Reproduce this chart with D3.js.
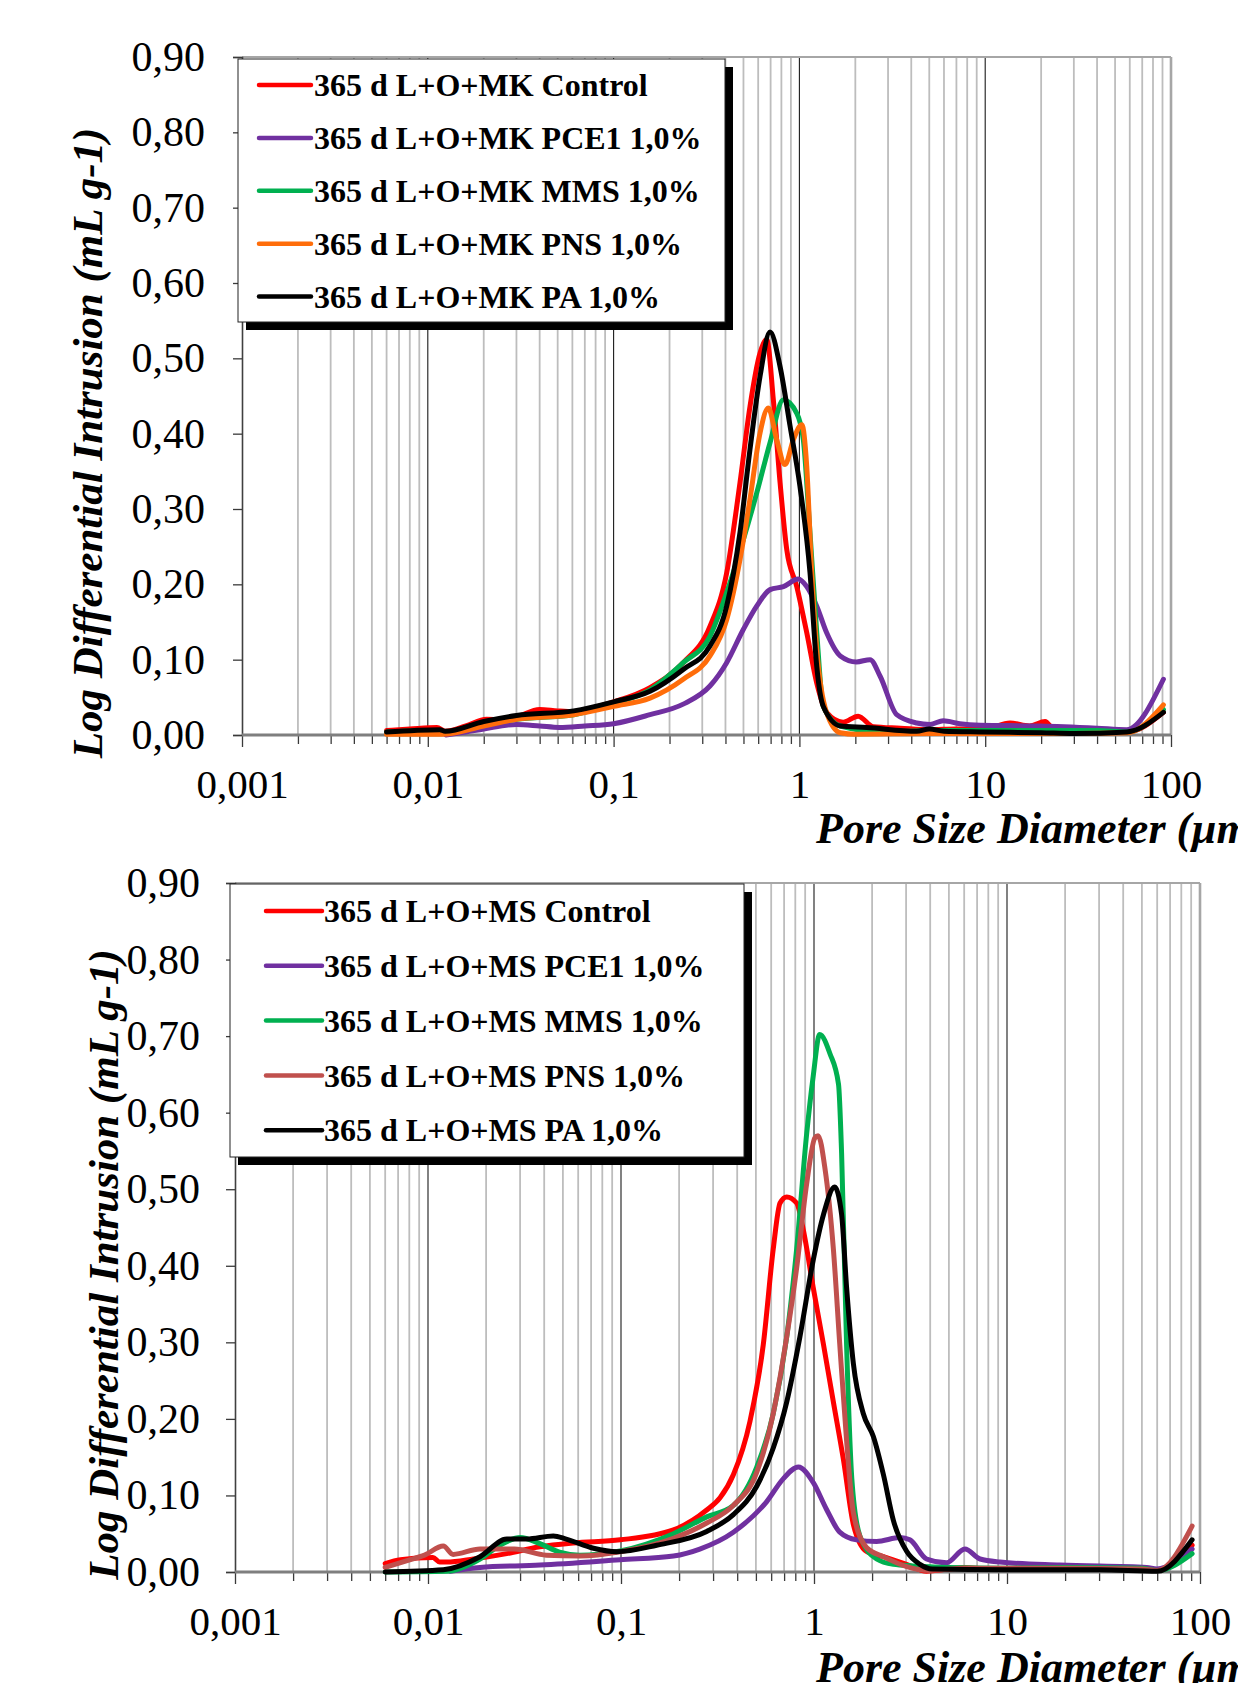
<!DOCTYPE html>
<html>
<head>
<meta charset="utf-8">
<script src="https://cdn.jsdelivr.net/npm/d3@7"></script>
<style>
  body { margin: 0; background: #fff; }
  svg { display: block; }
</style>
</head>
<body>
<div id="container1"></div>
<script>
// ---- data: [pore size (µm), log diff. intrusion (mL/g)] ----
const xTickValues = [0.001, 0.01, 0.1, 1, 10, 100];
const xTickLabels = ['0,001', '0,01', '0,1', '1', '10', '100'];
const yTickValues = [0, 0.1, 0.2, 0.3, 0.4, 0.5, 0.6, 0.7, 0.8, 0.9];
const yTickLabels = ['0,00', '0,10', '0,20', '0,30', '0,40', '0,50', '0,60', '0,70', '0,80', '0,90'];

const mkNames = ['365 d L+O+MK Control', '365 d L+O+MK PCE1 1,0%', '365 d L+O+MK MMS 1,0%',
                 '365 d L+O+MK PNS 1,0%', '365 d L+O+MK PA 1,0%'];
const msNames = ['365 d L+O+MS Control', '365 d L+O+MS PCE1 1,0%', '365 d L+O+MS MMS 1,0%',
                 '365 d L+O+MS PNS 1,0%', '365 d L+O+MS PA 1,0%'];
const mkColors = ['#ff0000', '#7030a0', '#00b050', '#ff6d0a', '#000000'];
const msColors = ['#ff0000', '#7030a0', '#00b050', '#c0504d', '#000000'];

const mkControl = [[0.006,0.006],[0.008,0.008],[0.0112,0.010],[0.0124,0.005],[0.016,0.012],[0.0207,0.021],
  [0.025,0.020],[0.030,0.024],[0.040,0.034],[0.050,0.032],[0.061,0.031],[0.08,0.037],[0.1,0.044],
  [0.157,0.063],[0.237,0.096],[0.33,0.144],[0.406,0.215],[0.479,0.335],[0.542,0.436],[0.614,0.507],
  [0.667,0.525],[0.724,0.445],[0.787,0.335],[0.855,0.246],[0.968,0.197],[1.095,0.136],[1.24,0.069],
  [1.40,0.030],[1.72,0.017],[2.07,0.025],[2.5,0.011],[3.5,0.009],[5,0.007],[7,0.008],[10,0.008],
  [13.6,0.016],[17.3,0.012],[21,0.018],[23.5,0.007],[30,0.005],[45,0.005],[58,0.004],[91,0.030]];
const mkPce1 = [[0.0125,0.000],[0.016,0.004],[0.020,0.008],[0.030,0.014],[0.040,0.012],[0.051,0.010],
  [0.07,0.012],[0.1,0.015],[0.157,0.027],[0.237,0.041],[0.33,0.065],[0.406,0.096],[0.499,0.140],
  [0.589,0.171],[0.695,0.193],[0.82,0.197],[0.986,0.207],[1.095,0.197],[1.24,0.171],[1.40,0.136],
  [1.66,0.105],[2.03,0.097],[2.40,0.100],[2.72,0.078],[3.34,0.027],[4.28,0.016],[5.05,0.014],
  [5.95,0.019],[7.3,0.015],[9.4,0.013],[19.7,0.012],[40,0.009],[57.7,0.007],[91,0.074]];
const mkMms = [[0.006,0.004],[0.011,0.006],[0.0124,0.004],[0.020,0.014],[0.030,0.021],[0.061,0.027],
  [0.1,0.042],[0.157,0.060],[0.237,0.096],[0.33,0.131],[0.406,0.189],[0.499,0.259],[0.589,0.321],
  [0.695,0.388],[0.82,0.445],[0.968,0.427],[1.05,0.392],[1.14,0.269],[1.24,0.136],[1.345,0.038],
  [1.66,0.012],[2.9,0.004],[5,0.006],[10,0.006],[20,0.006],[40,0.006],[58,0.004],[91,0.034]];
const mkPns = [[0.006,0.001],[0.012,0.001],[0.020,0.012],[0.030,0.021],[0.061,0.027],[0.1,0.038],
  [0.157,0.049],[0.237,0.074],[0.33,0.105],[0.406,0.153],[0.479,0.233],[0.542,0.313],[0.614,0.401],
  [0.68,0.434],[0.755,0.392],[0.837,0.359],[0.928,0.392],[1.03,0.412],[1.095,0.357],[1.16,0.224],
  [1.24,0.114],[1.40,0.030],[1.66,0.003],[2,0.001],[5,0.002],[10,0.002],[30,0.002],[58,0.003],[91,0.040]];
const mkPa = [[0.006,0.004],[0.0116,0.007],[0.0124,0.005],[0.020,0.018],[0.030,0.026],[0.061,0.032],
  [0.1,0.044],[0.157,0.058],[0.237,0.087],[0.33,0.118],[0.406,0.171],[0.479,0.269],[0.542,0.379],
  [0.614,0.476],[0.695,0.535],[0.787,0.489],[0.891,0.410],[1.007,0.330],[1.14,0.216],[1.24,0.091],
  [1.345,0.038],[1.66,0.012],[2.3,0.010],[4.28,0.005],[5,0.008],[6,0.005],[9.4,0.004],[20,0.003],
  [30,0.002],[58,0.004],[91,0.030]];

const msControl = [[0.006,0.011],[0.0072,0.016],[0.0106,0.019],[0.0115,0.013],[0.0125,0.013],
  [0.0172,0.017],[0.0256,0.024],[0.038,0.033],[0.0566,0.038],[0.099,0.042],[0.187,0.055],[0.278,0.081],
  [0.326,0.097],[0.382,0.127],[0.466,0.197],[0.546,0.297],[0.615,0.422],[0.667,0.482],[0.722,0.490],
  [0.813,0.482],[0.88,0.447],[0.99,0.372],[1.12,0.297],[1.26,0.222],[1.42,0.147],[1.60,0.062],
  [1.87,0.027],[2.29,0.020],[3.02,0.010],[3.83,0.001],[5,0.004],[6,0.006],[8,0.004],[20,0.004],
  [50,0.004],[60,0.002],[91,0.035]];
const msPce1 = [[0.013,0.001],[0.0186,0.006],[0.038,0.009],[0.099,0.016],[0.187,0.021],[0.256,0.030],
  [0.382,0.052],[0.569,0.092],[0.694,0.122],[0.83,0.137],[0.99,0.117],[1.16,0.082],[1.36,0.052],
  [1.66,0.042],[2.11,0.040],[2.79,0.045],[3.14,0.042],[3.83,0.017],[4.86,0.012],[6.05,0.030],
  [7.25,0.017],[9.2,0.013],[18.8,0.009],[53,0.006],[59.7,0.004],[91,0.030]];
const msMms = [[0.006,0.000],[0.0125,0.001],[0.0186,0.017],[0.0236,0.035],[0.030,0.045],[0.038,0.037],
  [0.048,0.026],[0.061,0.022],[0.099,0.0275],[0.187,0.050],[0.278,0.072],[0.382,0.087],[0.505,0.137],
  [0.615,0.207],[0.722,0.307],[0.813,0.422],[0.916,0.572],[0.99,0.647],[1.07,0.702],[1.21,0.677],
  [1.34,0.637],[1.39,0.547],[1.475,0.297],[1.57,0.122],[1.73,0.047],[2.11,0.017],[2.58,0.010],
  [3.26,0.008],[5,0.006],[10,0.005],[20,0.006],[50,0.005],[60,0.002],[91,0.024]];
const msPns = [[0.006,0.006],[0.0078,0.015],[0.0096,0.022],[0.012,0.034],[0.0135,0.023],[0.0186,0.030],
  [0.028,0.030],[0.041,0.022],[0.061,0.021],[0.099,0.0265],[0.187,0.044],[0.278,0.064],[0.382,0.087],
  [0.505,0.130],[0.615,0.207],[0.722,0.307],[0.813,0.397],[0.916,0.507],[1.01,0.567],[1.05,0.570],
  [1.14,0.527],[1.26,0.422],[1.36,0.297],[1.475,0.172],[1.60,0.077],[1.87,0.032],[2.29,0.020],
  [3.02,0.007],[4,0.002],[6,0.005],[10,0.005],[20,0.005],[50,0.004],[60,0.002],[91,0.060]];
const msPa = [[0.006,0.000],[0.012,0.003],[0.0186,0.020],[0.0256,0.043],[0.0325,0.043],[0.0446,0.047],
  [0.052,0.043],[0.072,0.031],[0.095,0.0265],[0.153,0.035],[0.278,0.053],[0.382,0.075],[0.505,0.112],
  [0.615,0.162],[0.722,0.222],[0.845,0.307],[0.99,0.407],[1.12,0.467],[1.28,0.503],[1.39,0.467],
  [1.475,0.372],[1.60,0.272],[1.80,0.207],[2.03,0.177],[2.29,0.127],[2.58,0.067],[3.02,0.027],
  [3.54,0.010],[4.1,0.004],[10,0.003],[30,0.003],[60,0.001],[91,0.042]];

const mkSeries = [mkControl, mkPce1, mkMms, mkPns, mkPa];
const msSeries = [msControl, msPce1, msMms, msPns, msPa];

// ---- layout ----
const width = 1238, height = 1683;
const serif = '"Times New Roman", "Liberation Serif", serif';

const svg = d3.select('#container1')
    .append('svg')
    .attr('width', width)
    .attr('height', height);

function drawChart(box, series, names, colors, lg) {
    const g = svg.append('g');

    const x = d3.scaleLog()
        .domain([0.001, 100])
        .range([box.left, box.right]);
    const y = d3.scaleLinear()
        .domain([0, 0.9])
        .range([box.bottom, box.top]);

    // minor / major values for the log grid
    const minor = [];
    const major = [];
    for (let n = -3; n <= 1; n++) {
        for (let k = 2; k <= 9; k++) minor.push(k * Math.pow(10, n));
        if (n > -3) major.push(Math.pow(10, n));
    }

    // vertical grid
    g.selectAll('.minor-grid')
        .data(minor)
        .enter()
        .append('line')
        .attr('x1', d => x(d)).attr('x2', d => x(d))
        .attr('y1', box.top).attr('y2', box.bottom)
        .attr('stroke', '#bdbdbd')
        .attr('stroke-width', 1.8);

    g.selectAll('.major-grid')
        .data(major)
        .enter()
        .append('line')
        .attr('x1', d => x(d)).attr('x2', d => x(d))
        .attr('y1', box.top).attr('y2', box.bottom)
        .attr('stroke', '#1a1a1a')
        .attr('stroke-width', 1.1);

    // top and right border
    g.append('line')
        .attr('x1', box.left).attr('x2', box.right)
        .attr('y1', box.top).attr('y2', box.top)
        .attr('stroke', '#a6a6a6').attr('stroke-width', 2.2);
    g.append('line')
        .attr('x1', box.right).attr('x2', box.right)
        .attr('y1', box.top).attr('y2', box.bottom)
        .attr('stroke', '#a6a6a6').attr('stroke-width', 2.6);

    // x axis: minor ticks, then major ticks with labels
    const xMinor = g.append('g')
        .attr('transform', `translate(0,${box.bottom})`)
        .call(d3.axisBottom(x).tickValues(minor).tickSize(9).tickFormat(''));
    xMinor.select('.domain').remove();

    const xMajor = g.append('g')
        .attr('transform', `translate(0,${box.bottom})`)
        .call(d3.axisBottom(x)
            .tickValues(xTickValues)
            .tickSize(12)
            .tickPadding(22)
            .tickFormat((d, i) => xTickLabels[i]));
    xMajor.select('.domain').remove();

    g.selectAll('.tick line')
        .attr('stroke', '#3a3a3a')
        .attr('stroke-width', 1.3);

    xMajor.selectAll('text')
        .attr('font-family', serif)
        .attr('font-size', '41px')
        .attr('fill', '#000');

    // y axis
    const yAxis = g.append('g')
        .attr('transform', `translate(${box.left},0)`)
        .call(d3.axisLeft(y)
            .tickValues(yTickValues)
            .tickSize(9)
            .tickPadding(lg.yPad)
            .tickFormat((d, i) => yTickLabels[i]));
    yAxis.select('.domain')
        .attr('stroke', '#404040')
        .attr('stroke-width', 1.6);
    yAxis.selectAll('.tick line')
        .attr('stroke', '#3a3a3a')
        .attr('stroke-width', 1.3);
    yAxis.selectAll('text')
        .attr('font-family', serif)
        .attr('font-size', '42px')
        .attr('fill', '#000');

    // x axis line drawn over the ticks
    g.append('line')
        .attr('x1', box.left).attr('x2', box.right)
        .attr('y1', box.bottom).attr('y2', box.bottom)
        .attr('stroke', '#7f7f7f')
        .attr('stroke-width', 2.8);

    // series
    const line = d3.line()
        .x(d => x(d[0]))
        .y(d => y(d[1]))
        .curve(d3.curveMonotoneX);

    g.selectAll('.series')
        .data(series)
        .enter()
        .append('path')
        .attr('d', line)
        .attr('fill', 'none')
        .attr('stroke', (d, i) => colors[i])
        .attr('stroke-width', 5)
        .attr('stroke-linejoin', 'round')
        .attr('stroke-linecap', 'round');

    // legend with drop shadow
    g.append('rect')
        .attr('x', lg.x + 8).attr('y', lg.y + 8)
        .attr('width', lg.w).attr('height', lg.h)
        .attr('fill', '#000');
    g.append('rect')
        .attr('x', lg.x).attr('y', lg.y)
        .attr('width', lg.w).attr('height', lg.h)
        .attr('fill', '#fff')
        .attr('stroke', '#222')
        .attr('stroke-width', 1);

    const rows = g.selectAll('.legend-row')
        .data(names)
        .enter()
        .append('g')
        .attr('transform', (d, i) => `translate(0,${lg.row0 + i * lg.step})`);
    rows.append('line')
        .attr('x1', lg.s1).attr('x2', lg.s2)
        .attr('stroke', (d, i) => colors[i])
        .attr('stroke-width', 4.5)
        .attr('stroke-linecap', 'round');
    rows.append('text')
        .attr('x', lg.tx)
        .attr('dy', '0.35em')
        .attr('font-family', serif)
        .attr('font-weight', 'bold')
        .attr('font-size', '32px')
        .text(d => d);

    // axis titles
    svg.append('text')
        .attr('transform', `translate(${lg.yTitleX},${(box.top + box.bottom) / 2 + lg.yTitleDy}) rotate(-90)`)
        .attr('text-anchor', 'middle')
        .attr('dy', '0.35em')
        .attr('font-family', serif)
        .attr('font-weight', 'bold')
        .attr('font-style', 'italic')
        .attr('font-size', '43px')
        .text('Log Differential Intrusion (mL g-1)');

    // the title runs past the page edge, as in the source figure
    svg.append('text')
        .attr('x', 816)
        .attr('y', lg.xTitleY)
        .attr('font-family', serif)
        .attr('font-weight', 'bold')
        .attr('font-style', 'italic')
        .attr('font-size', '44px')
        .text('Pore Size Diameter (µm)');
}

drawChart({ left: 242, right: 1171, top: 57, bottom: 735 }, mkSeries, mkNames, mkColors,
    { x: 238, y: 59, w: 487, h: 263, s1: 259, s2: 311, tx: 314, row0: 85, step: 52.9,
      yPad: 28, yTitleX: 87, yTitleDy: 47, xTitleY: 843 });

drawChart({ left: 235, right: 1200, top: 883, bottom: 1572 }, msSeries, msNames, msColors,
    { x: 230, y: 884, w: 514, h: 273, s1: 266, s2: 322, tx: 324, row0: 911, step: 54.8,
      yPad: 26, yTitleX: 103, yTitleDy: 37, xTitleY: 1682 });
</script>
</body>
</html>
